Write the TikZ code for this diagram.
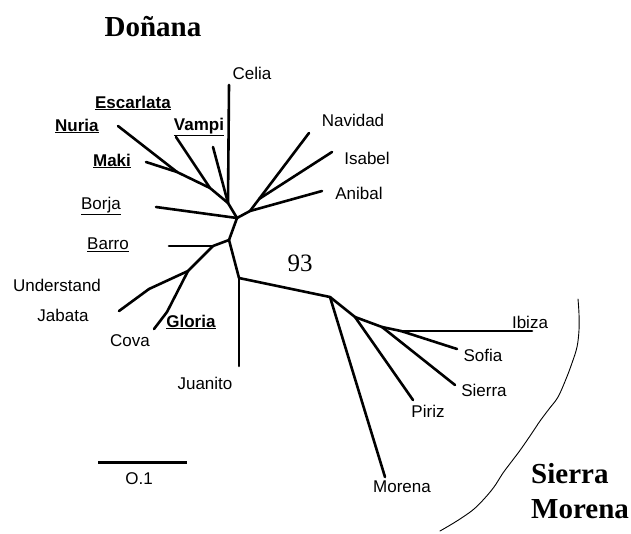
\documentclass[tikz,border=0pt]{standalone}
\usepackage{fontspec}
\setmainfont{Liberation Sans}
\newfontfamily\titlefont{Liberation Serif}
\tikzset{
  branch/.style={line width=2.6pt},
  tip/.style={inner sep=0pt},
  region/.style={inner sep=0pt, font=\titlefont\bfseries\fontsize{29}{35}\selectfont}
}
\begin{document}
\begin{tikzpicture}[x=1pt, y=-1pt, font=\fontsize{17}{20}\selectfont, line join=round, line cap=round]
            \useasboundingbox (0,0) rectangle (631,533);
            % inner nodes of the tree
            \coordinate (a) at (237,218);
            \coordinate (b) at (229,240);
            \coordinate (c) at (188,271);
            \coordinate (d) at (239,278);
            \coordinate (e) at (330,297);
            \coordinate (f) at (355,317);
            \coordinate (g) at (382,327);
            \coordinate (h) at (401,331);
            \coordinate (n1) at (228,203);
            \coordinate (n2) at (210,188);
            \coordinate (n3) at (177,172);
            \coordinate (r1) at (250,211);
            \coordinate (r2) at (259,199);
            \coordinate (k1) at (213,246);
            \coordinate (k2) at (149,289);
            \coordinate (k3) at (167,312);
            % leaves
            \coordinate (celia) at (229,85);
            \coordinate (stub) at (213,147);
            \coordinate (vampi) at (176,137);
            \coordinate (nuria) at (118,126);
            \coordinate (maki) at (146,162);
            \coordinate (borja) at (156,207);
            \coordinate (navidad) at (309,133);
            \coordinate (isabel) at (332,152);
            \coordinate (anibal) at (322,191);
            \coordinate (barro) at (169,246);
            \coordinate (jabata) at (119,311);
            \coordinate (cova) at (154,329);
            \coordinate (juanito) at (239,366);
            \coordinate (morena) at (385,477);
            \coordinate (piriz) at (413,400);
            \coordinate (sierra) at (455,385);
            \coordinate (sofia) at (457,349);
            \coordinate (ibiza) at (532,331);
            \foreach \u/\v in {a/n1, n1/celia, n1/stub, n1/n2, n2/vampi, n2/n3, n3/nuria, n3/maki,
                a/borja, a/r1, r1/navidad, r2/isabel, r1/anibal, a/b, b/k1, k1/barro, k1/c,
                c/k2, k2/jabata, c/k3, k3/cova, b/d, d/juanito, d/e, e/morena, e/f, f/piriz,
                f/g, g/sierra, g/h, h/ibiza, h/sofia}
            \draw[branch] (\u) -- (\v);
            % labels
            \foreach \n/\x/\y/\t in {lcelia/252/73/Celia, lnavidad/353/120/Navidad, lisabel/367/158/Isabel,
                lanibal/359/193/Anibal, lunderstand/57/285/Understand, ljabata/63/315/Jabata,
                lcova/130/341/Cova, ljuanito/205/383/Juanito, libiza/530/322/Ibiza, lsofia/483/355/Sofia,
                lsierra/484/390/Sierra, lpiriz/428/411/Piriz, lmorena/402/487/Morena}
            \node[tip] (\n) at (\x,\y) {\t};
            \foreach \n/\x/\y/\t in {lborja/101/206/Borja, lbarro/108/245/Barro}
            \node[tip] (\n) at (\x,\y) {\underline{\t}};
            \foreach \n/\x/\y/\t in {lescarlata/133/103/Escarlata, lnuria/77/126/Nuria, lvampi/199/127/Vampi,
                lmaki/112/161/Maki, lgloria/191/322/Gloria}
            \node[tip] (\n) at (\x,\y) {\underline{\textbf{\t}}};
            \node[tip, font=\titlefont\fontsize{25}{30}\selectfont] (boot) at (300,263) {93};
            % scale bar
            \coordinate (s0) at (98,462);
            \coordinate (s1) at (187,462);
            \draw[line width=3pt, line cap=butt] (s0) -- (s1);
            \node[tip] (scale) at (139,479) {O.1};
            % regions
            \node[region] (donana) at (153,27) {Doñana};
            \node[region, anchor=north west, align=left] (sm) at (531,463) {Sierra\\Morena};
            \draw[line width=0.9pt] plot[smooth, tension=0.6] coordinates {(578,299) (579,314) (579,330)
                (577,347) (572,363) (566,379) (558,397) (549,409) (540,421) (532,433) (521,449)
                (512,461) (503,473) (494,487) (484,499) (474,509) (463,517) (452,524) (440,531)};
    \end{tikzpicture}
\end{document}
